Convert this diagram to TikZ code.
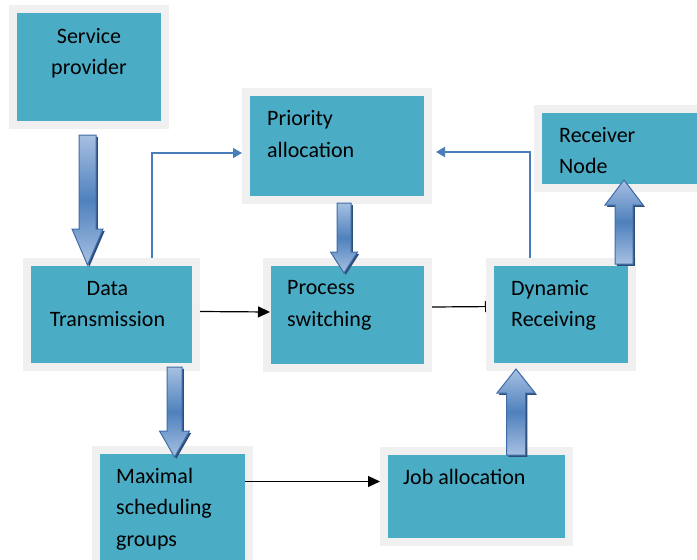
\documentclass[tikz,border=0pt]{standalone}
\usepackage{fontspec}
\setmainfont{Carlito}
\usetikzlibrary{arrows.meta,shadows,backgrounds,calc}

\definecolor{boxfill}{HTML}{4BACC6}
\definecolor{boxrim}{HTML}{F0F0F0}
\definecolor{linkblue}{HTML}{4A7EBB}
\definecolor{blklight}{HTML}{A7C0E2}
\definecolor{blkmid}{HTML}{4F81BD}
\definecolor{blkedge}{HTML}{3F6DA8}
\definecolor{blkshade}{HTML}{2E4E78}

% start, tip, shaft half width, head half width, head length
\newcommand{\blkarrow}[5]{%
  \draw[blk] let \p1=#1, \p2=#2, \n1={sign(\y2-\y1)} in
    ({\x1-#3pt},\y1) -- ({\x1-#3pt},{\y2-\n1*#5pt}) -- ({\x1-#4pt},{\y2-\n1*#5pt})
    -- (\x1,\y2) -- ({\x1+#4pt},{\y2-\n1*#5pt}) -- ({\x1+#3pt},{\y2-\n1*#5pt})
    -- ({\x1+#3pt},\y1) -- cycle;}

\begin{document}
\begin{tikzpicture}[x=1pt,y=-1pt,
    box/.style={draw=boxrim,fill=boxfill,line width=8pt,inner sep=0pt,outer sep=0pt,anchor=north west},
    txt/.style={font=\fontsize{22}{31.5}\selectfont,inner sep=0pt,anchor=base west,align=left},
    link/.style={draw=linkblue,line width=1.6pt,-{Triangle[width=10pt,length=9pt]}},
    flow/.style={black,line width=1.2pt,-{Triangle[width=11pt,length=12pt]}},
    blk/.style={draw=blkedge,line width=1pt,top color=blklight,bottom color=blklight,middle color=blkmid,
        drop shadow={shadow xshift=1.8pt,shadow yshift=-1.8pt,fill=blkshade,opacity=1}}]
    \useasboundingbox (0,0) rectangle (697,560);
    \clip (0,0) rectangle (697,560);

    \node[box,minimum width=152pt,minimum height=116pt] (svc) at (13,9) {};
    \node[box,minimum width=169pt,minimum height=105pt] (data) at (27,262) {};
    \node[box,minimum width=182pt,minimum height=108pt] (prio) at (246,92) {};
    \node[box,minimum width=161pt,minimum height=106pt] (proc) at (267,262) {};
    \node[box,minimum width=142pt,minimum height=105pt] (dyn) at (490,262) {};
    \node[box,minimum width=190pt,minimum height=79pt] (recv) at (538,109) {};
    \node[box,minimum width=153pt,minimum height=140pt] (maxs) at (96,450) {};
    \node[box,minimum width=185pt,minimum height=91pt] (job) at (384,451) {};

    % base of a text node is its last line
    \node[txt,anchor=base,align=center] (svctxt) at (89,74.5) {Service\\provider};
    \node[txt,anchor=base,align=center] (datatxt) at (107.5,326.5) {Data\\Transmission};
    \node[txt] (priotxt) at (267,157) {Priority\\allocation};
    \node[txt] (proctxt) at (287,326) {Process\\switching};
    \node[txt] (dyntxt) at (511,326.5) {Dynamic\\Receiving};
    \node[txt] (recvtxt) at (559,173.5) {Receiver\\Node};
    \node[txt] (maxstxt) at (116,546) {Maximal\\scheduling\\groups};
    \node[txt] (jobtxt) at (403,484) {Job allocation};

    % block arrows
    \blkarrow{([xshift=-1.5pt,yshift=-10pt]svc.south)}{([yshift=-3pt]data.north)}{8.5}{15.5}{36}
    \blkarrow{([xshift=7pt,yshift=-3pt]prio.south)}{([yshift=-11pt]proc.north)}{7}{13.5}{21}
    \blkarrow{([xshift=-8pt,yshift=-2pt]dyn.north east)}{([yshift=8pt]recv.south)}{9}{19}{25}
    \blkarrow{([xshift=63pt]data.south)}{([yshift=-7pt]maxs.north)}{7.5}{15}{26}
    \blkarrow{([xshift=132pt,yshift=-4pt]job.north west)}{([yshift=-2pt]dyn.south)}{9.5}{19}{24}

    % thin arrows
    \draw[link] ([xshift=125pt,yshift=4pt]data.north west) |- ([xshift=-4pt,yshift=-7pt]prio.west);
    \draw[link] ([xshift=40pt,yshift=4pt]dyn.north west) |- ([xshift=8pt,yshift=-6pt]prio.east);
    \draw[flow] ([xshift=4pt,yshift=3pt]data.east) -- ([xshift=3pt,yshift=3pt]proc.west);
    \begin{scope}[on background layer]
        \draw[flow] ([xshift=4pt,yshift=8pt]proc.east) -- ([xshift=7pt,yshift=8pt]dyn.west);
    \end{scope}
    \draw[flow] ([xshift=-4pt,yshift=15pt]job.west -| maxs.east) -- ([xshift=-4pt,yshift=15pt]job.west);
\end{tikzpicture}
\end{document}
